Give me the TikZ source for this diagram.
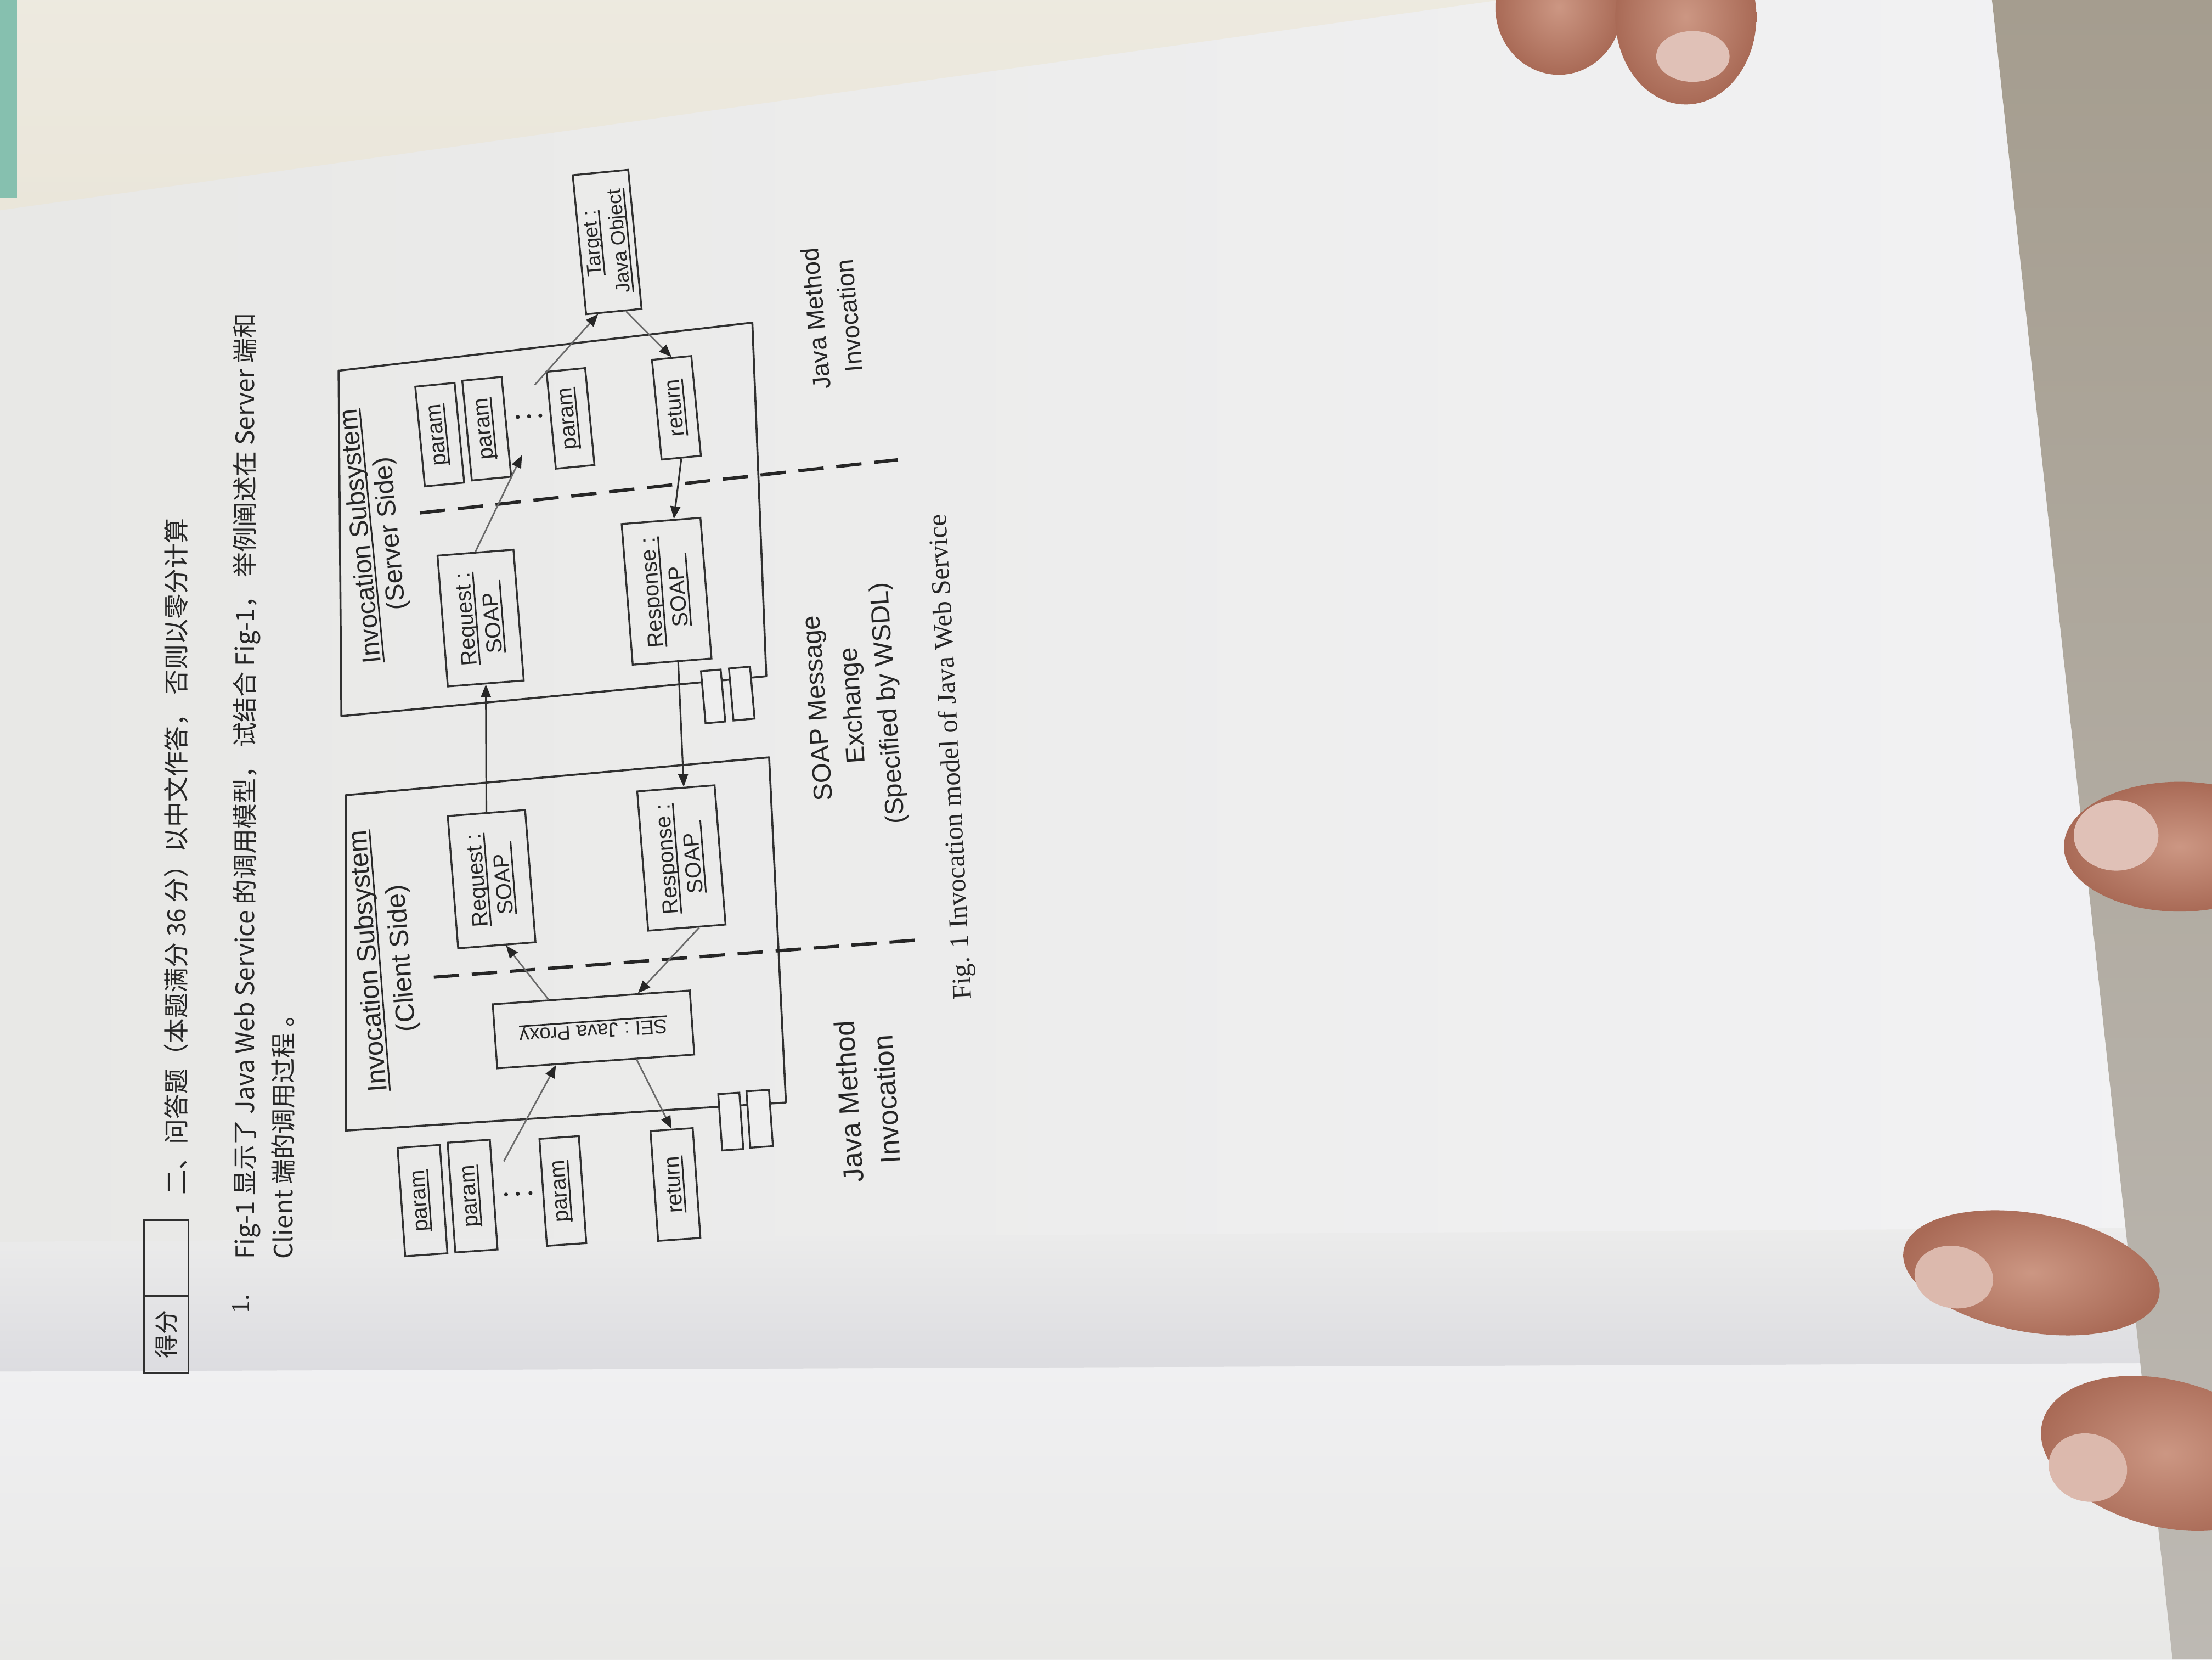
\documentclass[tikz,border=0pt]{standalone}
\usepackage{fontspec}
\setmainfont{Liberation Serif}
\setsansfont{Liberation Sans}
\newfontfamily\cjk{Noto Sans CJK SC}
\usetikzlibrary{arrows.meta,calc}

% underline with a printed-looking rule
\newcommand\ulx[1]{\setbox0=\hbox{#1}\leavevmode\rlap{\rule[-2.8pt]{\wd0}{1.1pt}}\box0}

\definecolor{inkc}{HTML}{262626}
\definecolor{linec}{HTML}{303030}
\definecolor{arrowc}{HTML}{6A6A6A}
\definecolor{paperL}{HTML}{E8E8E6}
\definecolor{paperR}{HTML}{F2F2F4}
\definecolor{paperfold}{HTML}{DCDCE0}
\definecolor{paperlow}{HTML}{F0F0F2}
\definecolor{cream}{HTML}{EAE6DA}
\definecolor{tealc}{HTML}{86C0AF}
\definecolor{tablec}{HTML}{A59D8F}
\definecolor{tablelow}{HTML}{BDB9B3}
\definecolor{skin}{HTML}{C78C76}
\definecolor{skindark}{HTML}{A96A56}
\definecolor{nail}{HTML}{E0C1B7}

\tikzset{
  frame/.style={draw=linec, line width=1.4pt, line join=round},
  obj/.style={draw=linec, line width=1.3pt, inner sep=0pt, align=center, text=inkc,
              font=\sffamily\fontsize{15.5}{18.5}\selectfont},
  port/.style={draw=linec, line width=1.3pt, fill=paperR!60!paperL, inner sep=0pt},
  lbl/.style={inner sep=0pt, align=center, text=inkc},
  hdr/.style={inner sep=0pt, text=inkc, rotate=90, anchor=west,
              font=\cjk\fontsize{17.9}{20}\selectfont},
  flow/.style={draw=arrowc, line width=1.1pt,
               -{Triangle[length=9pt,width=7pt,color=black!85]}},
  flowdark/.style={draw=linec, line width=1.2pt,
               -{Triangle[length=9pt,width=7pt,color=black!85]}},
  divider/.style={draw=black!85, line width=2.3pt, dash pattern=on 18pt off 9pt},
  dotc/.style={fill=inkc},
  finger/.style={inner color=skin!80!nail, outer color=skindark},
}

\begin{document}
\begin{tikzpicture}[x=1pt,y=-1pt]
\useasboundingbox (0,0) rectangle (1568,1176);

% ---------- backdrop: sheet, desk and hands ----------
\shade[left color=paperL, right color=paperR] (0,0) rectangle (1568,1176);
\shade[top color=cream!85!white, bottom color=cream] (0,0) -- (1063,0) -- (0,149) -- cycle;
\fill[tealc] (0,0) rectangle (12,140);
\shade[top color=paperL!60!paperR, bottom color=paperfold] (0,880) -- (1535,870) -- (1535,966) -- (0,972) -- cycle;
\shade[top color=paperlow, bottom color=paperL] (0,972) -- (1535,966) -- (1540,1176) -- (0,1176) -- cycle;
\shade[top color=tablec, bottom color=tablelow] (1412,0) -- (1568,0) -- (1568,1176) -- (1540,1176) -- cycle;
% fingers
\shade[finger] (1105,5) ellipse [x radius=45, y radius=48];
\shade[finger] (1195,12) ellipse [x radius=50, y radius=62];
\fill[nail] (1200,40) ellipse [x radius=26, y radius=18];
\shade[finger] (1545,600) ellipse [x radius=82, y radius=46];
\fill[nail] (1500,592) ellipse [x radius=30, y radius=25];
\shade[finger, rotate around={-10:(1440,902)}] (1440,902) ellipse [x radius=92, y radius=42];
\fill[nail!85!skin, rotate around={-10:(1385,905)}] (1385,905) ellipse [x radius=28, y radius=22];
\shade[finger, rotate around={-14:(1535,1030)}] (1535,1030) ellipse [x radius=90, y radius=52];
\fill[nail!85!skin, rotate around={-14:(1480,1040)}] (1480,1040) ellipse [x radius=28, y radius=24];

% ---------- question header ----------
\node[draw=linec, line width=1.3pt, rotate=90, minimum width=54.6pt, minimum height=31.4pt,
      inner sep=0pt, text=inkc, font=\cjk\fontsize{17}{20}\selectfont] (scorelabel) at (118,945.5) {得分};
\node[draw=linec, line width=1.3pt, rotate=90, minimum width=53.5pt, minimum height=31.4pt,
      inner sep=0pt] (scorecell) at (118,891.4) {};
\node[hdr] (qtitle) at (125,847) {二、问答题（本题满分 36 分）以中文作答，\ 否则以零分计算};
\node[hdr, font=\rmfamily\fontsize{18}{20}\selectfont] (qnum) at (170.5,931) {1.};
\node[hdr] (qline1) at (175,892.5) {Fig-1 显示了 Java Web Service 的调用模型，\ 试结合 Fig-1，\ 举例阐述在 Server 端和};
\node[hdr] (qline2) at (200.5,892.5) {Client 端的调用过程 。};

% ---------- server side ----------
\coordinate (sTL) at (240,262.7);
\coordinate (sTR) at (533.3,228.6);
\coordinate (sBR) at (543.2,479.2);
\coordinate (sBL) at (242,507.5);
\draw[frame] (sTL) -- (sTR) -- (sBR) -- (sBL) -- cycle;
\node[port, rotate=95, minimum width=37pt, minimum height=14pt] (sport1) at (505.5,493.5) {};
\node[port, rotate=95, minimum width=37pt, minimum height=15pt] (sport2) at (525.8,491.5) {};

\node[lbl, rotate=95.5, font=\sffamily\fontsize{18.5}{21}\selectfont] (ssys) at (267,379)
  {\ulx{Invocation Subsystem}\\(Server Side)};

\node[obj, rotate=95.5, minimum width=71pt, minimum height=28pt] (sp1) at (311.7,308) {\ulx{param}};
\node[obj, rotate=95.5, minimum width=71pt, minimum height=28pt] (sp2) at (345,303.8) {\ulx{param}};
\node[obj, rotate=95.5, minimum width=69pt, minimum height=27.5pt] (sp3) at (404.4,296.5) {\ulx{param}};
\fill[dotc] (367,295.5) circle (1.4) (375,295) circle (1.4) (383,294.5) circle (1.4);
\node[obj, rotate=95.5, minimum width=71pt, minimum height=28pt] (sret) at (479.5,289) {\ulx{return}};
\node[obj, rotate=95.5, minimum width=99pt, minimum height=39.5pt,
      font=\sffamily\fontsize{14}{19}\selectfont] (target) at (430.4,171.5) {\ulx{Target :}\\\ulx{Java Object}};
\node[obj, rotate=94.5, minimum width=93pt, minimum height=54pt] (sreq) at (340.7,438) {\ulx{Request :}\\\ulx{SOAP\ \ }};
\node[obj, rotate=94.5, minimum width=100pt, minimum height=56pt] (sresp) at (472.5,419) {\ulx{Response :}\\\ulx{SOAP\ \ }};

\node[lbl, rotate=95, font=\sffamily\fontsize{17.5}{23.7}\selectfont] (jmiR) at (590,224.8) {Java Method\\Invocation};

% ---------- client side ----------
\coordinate (cTL) at (245,563.5);
\coordinate (cTR) at (545.2,536.7);
\coordinate (cBR) at (557.1,781.3);
\coordinate (cBL) at (245,801.2);
\draw[frame] (cTL) -- (cTR) -- (cBR) -- (cBL) -- cycle;
\node[port, rotate=94, minimum width=40pt, minimum height=15pt] (cport1) at (518,794.8) {};
\node[port, rotate=94, minimum width=40pt, minimum height=16pt] (cport2) at (538.5,792.8) {};

\node[lbl, rotate=94.5, font=\sffamily\fontsize{19}{23.7}\selectfont] (csys) at (273.8,680)
  {\ulx{Invocation Subsystem}\\(Client Side)};

\node[obj, rotate=94, minimum width=77pt, minimum height=30pt] (cp1) at (299.5,850.8) {\ulx{param}};
\node[obj, rotate=94, minimum width=78pt, minimum height=30pt] (cp2) at (335,847.6) {\ulx{param}};
\node[obj, rotate=94, minimum width=76pt, minimum height=28pt] (cp3) at (399,844) {\ulx{param}};
\fill[dotc] (358.7,846.5) circle (1.4) (367,846) circle (1.4) (376,845.5) circle (1.4);
\node[obj, rotate=94, minimum width=78pt, minimum height=30pt] (cret) at (478.8,839.4) {\ulx{return}};
\node[obj, rotate=184, minimum width=140pt, minimum height=45.5pt,
      font=\sffamily\fontsize{14.2}{17}\selectfont] (sei) at (420.7,729.5) {\ulx{SEI : Java Proxy}};
\node[obj, rotate=94.5, minimum width=94pt, minimum height=55pt] (creq) at (348.5,623) {\ulx{Request :}\\\ulx{SOAP\ \ }};
\node[obj, rotate=94.5, minimum width=99pt, minimum height=55pt] (cresp) at (483,608) {\ulx{Response :}\\\ulx{SOAP\ \ }};

\node[lbl, rotate=93.5, font=\sffamily\fontsize{20}{26.8}\selectfont] (jmiL) at (615,779.8) {Java Method\\Invocation};

% ---------- middle: message exchange ----------
\node[lbl, rotate=94, font=\sffamily\fontsize{18.5}{24.8}\selectfont] (soapx) at (605.7,500)
  {SOAP Message\\Exchange\\(Specified by WSDL)};

% boundary lines between Java invocation and SOAP exchange
\coordinate (d1a) at (297.6,363.5);
\coordinate (d1b) at (636.5,325.8);
\coordinate (d2a) at (307.5,692.5);
\coordinate (d2b) at (656.3,665.7);
\draw[divider] (d1a) -- (d1b);
\draw[divider] (d2a) -- (d2b);

% ---------- invocation flow ----------
\coordinate (cpfan) at (357.1,823);
\coordinate (spfan) at (370,322.5);
\coordinate (spout) at (379,272.8);

\draw[flow] (cpfan) -- ($(sei.north)!0.4!(sei.north east)$);
\draw[flow] ($(sei.south)!0.43!(sei.south east)$) -- ($(creq.west)!0.23!(creq.south west)$);
\draw[flowdark] (creq.east) -- (sreq.west);
\draw[flow] (sreq.east) -- (spfan);
\draw[flow] (spout) -- ($(target.west)!0.55!(target.north west)$);
\draw[flow] ($(target.west)!0.42!(target.south west)$) -- (sret.east);
\draw[flowdark] (sret.west) -- ($(sresp.east)!0.32!(sresp.south east)$);
\draw[flowdark] ($(sresp.west)!0.15!(sresp.south west)$) -- ($(cresp.east)!0.2!(cresp.south east)$);
\draw[flow] ($(cresp.west)!0.31!(cresp.south west)$) -- ($(sei.south)!0.47!(sei.south west)$);
\draw[flow] ($(sei.north)!0.41!(sei.north west)$) -- (cret.east);

% ---------- caption ----------
\node[lbl, rotate=93, font=\rmfamily\fontsize{19}{22}\selectfont] (caption) at (675,536.5)
  {Fig. 1 Invocation model of Java Web Service};
\end{tikzpicture}
\end{document}
